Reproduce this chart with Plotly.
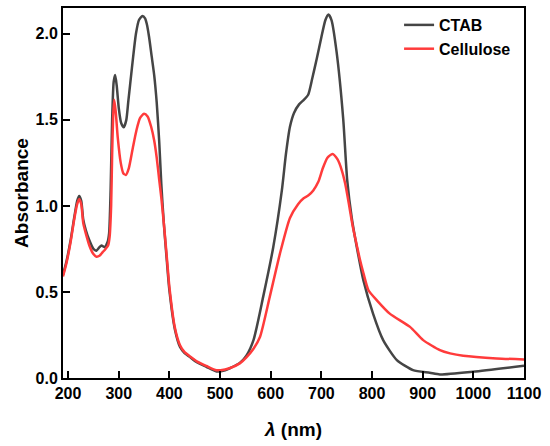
import plotly.graph_objects as go

# wavelength (nm) / absorbance
ctab_x = [190, 197, 205, 212, 218, 222, 226, 230, 235, 242, 250, 256, 262, 266, 272, 278, 281,
          284, 287, 290, 293, 296, 300, 305, 310, 315, 319, 326, 334, 340, 347, 352, 356, 360,
          365, 370, 375, 380, 384, 389, 395, 400, 411, 421, 430, 440, 455, 473, 493, 510, 520,
          539, 552, 566, 585, 605, 622, 630, 638, 646, 656, 665, 674, 682, 691, 700, 708, 714,
          720, 730, 743, 751, 760, 770, 783, 802, 822, 849, 881, 914, 934, 1000, 1100]
ctab_y = [0.60, 0.68, 0.80, 0.93, 1.03, 1.058, 1.03, 0.92, 0.86, 0.80, 0.75, 0.74, 0.76, 0.77,
          0.76, 0.79, 0.84, 1.09, 1.50, 1.72, 1.76, 1.70, 1.57, 1.48, 1.457, 1.50, 1.61, 1.80,
          2.00, 2.08, 2.104, 2.09, 2.05, 1.98, 1.87, 1.76, 1.60, 1.37, 1.13, 0.90, 0.68, 0.51,
          0.28, 0.18, 0.145, 0.123, 0.09, 0.065, 0.038, 0.045, 0.058, 0.088, 0.13, 0.22, 0.47,
          0.76, 1.09, 1.30, 1.46, 1.54, 1.59, 1.615, 1.646, 1.74, 1.857, 1.98, 2.08, 2.112,
          2.08, 1.896, 1.51, 1.15, 0.93, 0.76, 0.567, 0.374, 0.22, 0.104, 0.046, 0.031, 0.021,
          0.037, 0.071]

cell_x = [190, 197, 205, 212, 218, 222, 226, 230, 235, 242, 250, 256, 262, 268, 274, 279, 282,
          285, 287, 289, 291, 294, 298, 304, 309, 314, 320, 328, 335, 342, 350, 357, 364, 370,
          375, 380, 384, 389, 395, 400, 411, 421, 430, 440, 455, 473, 493, 510, 520, 539, 552,
          566, 579, 598, 618, 638, 654, 665, 674, 684, 694, 703, 712, 722, 732, 740, 747, 755,
          762, 770, 776, 783, 793, 810, 835, 875, 901, 934, 954, 980, 1046, 1100]
cell_y = [0.59, 0.67, 0.79, 0.92, 1.01, 1.04, 1.01, 0.90, 0.84, 0.77, 0.72, 0.705, 0.71, 0.73,
          0.75, 0.77, 0.82, 1.00, 1.30, 1.52, 1.617, 1.55, 1.40, 1.25, 1.19, 1.18, 1.22, 1.34,
          1.44, 1.51, 1.536, 1.52, 1.46, 1.38, 1.28, 1.15, 1.05, 0.90, 0.70, 0.53, 0.29, 0.19,
          0.15, 0.127, 0.095, 0.07, 0.045, 0.05, 0.058, 0.085, 0.12, 0.17, 0.24, 0.47, 0.72,
          0.93, 1.01, 1.045, 1.06, 1.09, 1.14, 1.22, 1.28, 1.302, 1.27, 1.21, 1.13, 1.00, 0.88,
          0.77, 0.69, 0.61, 0.51, 0.45, 0.374, 0.297, 0.22, 0.162, 0.143, 0.129, 0.114, 0.108]

x_ticks = [200, 300, 400, 500, 600, 700, 800, 900, 1000, 1100]
y_ticks = [0.0, 0.5, 1.0, 1.5, 2.0]

font_family = "Liberation Sans, Arial, sans-serif"

fig = go.Figure()
fig.add_trace(go.Scatter(x=ctab_x, y=ctab_y, name="CTAB", mode="lines",
                         line=dict(color="#454545", width=2.5, shape="spline", smoothing=0.6)))
fig.add_trace(go.Scatter(x=cell_x, y=cell_y, name="Cellulose", mode="lines",
                         line=dict(color="#ff3b3b", width=2.5, shape="spline", smoothing=0.6)))

axis_common = dict(showline=True, linecolor="black", linewidth=2, mirror=True,
                   ticks="inside", ticklen=7, tickwidth=2, tickcolor="black",
                   showgrid=False, zeroline=False,
                   tickfont=dict(family=font_family, size=16, color="black", weight="bold"))

fig.update_xaxes(range=[190, 1100], tickvals=x_ticks,
                 title=dict(text="<i>λ</i> (nm)", standoff=21,
                            font=dict(family=font_family, size=19, color="black", weight="bold")),
                 **axis_common)
fig.update_yaxes(range=[0, 2.15], tickvals=y_ticks, tickformat=".1f",
                 title=dict(text="Absorbance", standoff=2,
                            font=dict(family=font_family, size=19, color="black", weight="bold")),
                 **axis_common)

fig.update_layout(
    width=550, height=446,
    margin=dict(l=63, r=26, t=6, b=68),
    paper_bgcolor="white", plot_bgcolor="white",
    showlegend=True,
    legend=dict(x=0.729, y=1.0, xanchor="left", yanchor="top",
                bgcolor="rgba(0,0,0,0)", borderwidth=0, tracegroupgap=0,
                font=dict(family=font_family, size=16, color="black", weight="bold")),
)

# drop the default 8px page margin so the figure fills the window exactly
fig.write_html("out.html", config={"displayModeBar": False},
               post_script="document.body.style.margin = '0';")
